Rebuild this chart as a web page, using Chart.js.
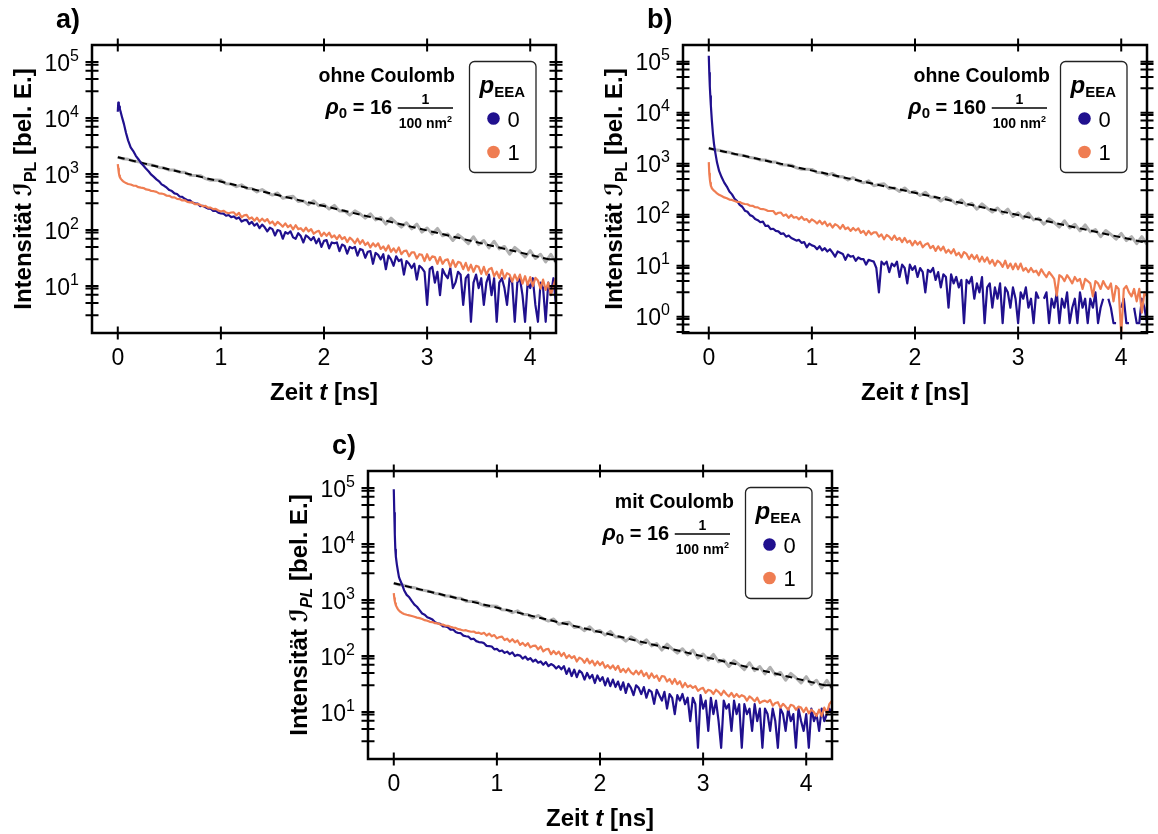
<!DOCTYPE html>
<html>
<head>
<meta charset="utf-8">
<script src="https://cdn.jsdelivr.net/npm/chart.js@4.4.1/dist/chart.umd.min.js"></script>
<style>
  html, body { margin: 0; padding: 0; background: #fff; }
  #wrap { position: relative; width: 1158px; height: 834px; overflow: hidden; }
  canvas { position: absolute; }
</style>
</head>
<body>
<div id="wrap">
  <canvas id="panelA" width="579" height="417" style="left:0px;top:0px"></canvas>
  <canvas id="panelB" width="579" height="417" style="left:579px;top:0px"></canvas>
  <canvas id="panelC" width="579" height="417" style="left:270px;top:417px"></canvas>
</div>
<script>
// time axis of the simulated traces [ns]
const timeNs = [
  0, 0.005, 0.01, 0.015, 0.02, 0.03, 0.04, 0.05, 0.06, 0.08, 0.1,
  0.125, 0.15, 0.175, 0.2, 0.225, 0.25, 0.275, 0.3, 0.325, 0.35,
  0.375, 0.4, 0.425, 0.45, 0.475, 0.5, 0.525, 0.55, 0.575, 0.6,
  0.625, 0.65, 0.675, 0.7, 0.725, 0.75, 0.775, 0.8, 0.825, 0.85,
  0.875, 0.9, 0.925, 0.95, 0.975, 1.0, 1.025, 1.05, 1.075, 1.1,
  1.125, 1.15, 1.175, 1.2, 1.225, 1.25, 1.275, 1.3, 1.325, 1.35,
  1.375, 1.4, 1.425, 1.45, 1.475, 1.5, 1.525, 1.55, 1.575, 1.6,
  1.625, 1.65, 1.675, 1.7, 1.725, 1.75, 1.775, 1.8, 1.825, 1.85,
  1.875, 1.9, 1.925, 1.95, 1.975, 2.0, 2.025, 2.05, 2.075, 2.1,
  2.125, 2.15, 2.175, 2.2, 2.225, 2.25, 2.275, 2.3, 2.325, 2.35,
  2.375, 2.4, 2.425, 2.45, 2.475, 2.5, 2.525, 2.55, 2.575, 2.6,
  2.625, 2.65, 2.675, 2.7, 2.725, 2.75, 2.775, 2.8, 2.825, 2.85,
  2.875, 2.9, 2.925, 2.95, 2.975, 3.0, 3.025, 3.05, 3.075, 3.1,
  3.125, 3.15, 3.175, 3.2, 3.225, 3.25, 3.275, 3.3, 3.325, 3.35,
  3.375, 3.4, 3.425, 3.45, 3.475, 3.5, 3.525, 3.55, 3.575, 3.6,
  3.625, 3.65, 3.675, 3.7, 3.725, 3.75, 3.775, 3.8, 3.825, 3.85,
  3.875, 3.9, 3.925, 3.95, 3.975, 4.0, 4.025, 4.05, 4.075, 4.1,
  4.125, 4.15, 4.175, 4.2, 4.225, 4.25
];

// reference decay (grey) and its exponential fit (dashed), same in all panels
const grayTime = [
  0, 0.05, 0.1, 0.15, 0.2, 0.25, 0.3, 0.35, 0.4, 0.45,
  0.5, 0.55, 0.6, 0.65, 0.7, 0.75, 0.8, 0.85, 0.9, 0.95,
  1.0, 1.05, 1.1, 1.15, 1.2, 1.25, 1.3, 1.35, 1.4, 1.45,
  1.5, 1.55, 1.6, 1.65, 1.7, 1.75, 1.8, 1.85, 1.9, 1.95,
  2.0, 2.05, 2.1, 2.15, 2.2, 2.25, 2.3, 2.35, 2.4, 2.45,
  2.5, 2.55, 2.6, 2.65, 2.7, 2.75, 2.8, 2.85, 2.9, 2.95,
  3.0, 3.05, 3.1, 3.15, 3.2, 3.25, 3.3, 3.35, 3.4, 3.45,
  3.5, 3.55, 3.6, 3.65, 3.7, 3.75, 3.8, 3.85, 3.9, 3.95,
  4.0, 4.05, 4.1, 4.15, 4.2, 4.25
];
const grayRef = [
  2010, 1882, 1835, 1710, 1667, 1537, 1484, 1425, 1315, 1282,
  1182, 1181, 1079, 1078, 956, 946, 936, 830, 773, 781,
  772, 671, 665, 595, 643, 555, 554, 480, 530, 462,
  421, 460, 369, 389, 402, 324, 332, 284, 334, 271,
  286, 237, 276, 219, 221, 185, 220, 195, 163, 195,
  152, 167, 128, 163, 134, 113, 135, 105, 128, 92,
  109, 85, 107, 79, 85, 65, 83, 70, 57, 76,
  55, 65, 48, 63, 46, 51, 37, 49, 41, 33,
  43, 31, 37, 27, 37, 26
];
const fitTime = [0, 4.25];
const fitRef = [2000, 28];

// a) ohne Coulomb, rho0 = 16
const blueA = [
  13000, 19000, 17500, 16000, 14500, 12500, 10600, 9100, 7800, 5400, 4000,
  3000, 2580, 2120, 1840, 1580, 1410, 1240, 1110, 975, 890,
  805, 742, 655, 618, 570, 518, 497, 452, 440, 398,
  392, 362, 340, 338, 309, 300, 296, 268, 272, 256,
  242, 240, 220, 222, 205, 199, 196, 180, 186, 170,
  175, 160, 168, 142, 150, 152, 128, 140, 120, 131,
  108, 125, 112, 95, 110, 104, 80, 100, 96, 70,
  92, 86, 95, 74, 70, 88, 78, 60, 80, 74,
  66, 75, 58, 70, 50, 64, 66, 47, 60, 58,
  60, 42, 55, 52, 38, 50, 47, 50, 35, 46,
  44, 32, 41, 42, 25, 39, 36, 30, 37, 20,
  35, 30, 23, 34, 28, 30, 16, 28, 25, 21,
  25, 13, 23, 21, 18, 4.6, 20, 22, 11.5, 18,
  6.9, 20, 16, 13.8, 21, 9.2, 11.5, 18, 16, 4.6,
  13.8, 16, 2.3, 11.5, 16, 9.2, 13.8, 4.6, 11.5, 16,
  6.9, 13.8, 2.3, 11.5, 13.8, 9.2, 4.6, 13.8, 11.5, 2.3,
  11.5, 13.8, 6.9, 2.3, 11.5, 9.2, 13.8, 4.6, 2.3, 11.5,
  9.2, 2.3, 11.5, 6.9, 13.8, 4.6
];
const orangeA = [
  1500, 1250, 1050, 940, 880, 820, 780, 750, 725, 690, 665,
  652, 622, 618, 583, 571, 562, 531, 523, 498, 494,
  480, 452, 449, 436, 411, 409, 384, 383, 360, 358,
  338, 341, 318, 312, 311, 289, 292, 282, 266, 270,
  251, 252, 236, 239, 224, 214, 221, 206, 200, 206,
  207, 183, 203, 169, 183, 187, 159, 168, 147, 166,
  142, 160, 143, 157, 132, 142, 121, 140, 128, 115,
  132, 113, 123, 103, 122, 104, 108, 95, 110, 95,
  104, 86, 93, 97, 78, 90, 79, 90, 74, 80,
  69, 81, 69, 75, 61, 73, 67, 58, 70, 57,
  66, 54, 60, 49, 58, 51, 58, 46, 51, 43,
  53, 41, 47, 40, 49, 37, 42, 43, 34, 40,
  40, 31, 37, 36, 28, 37, 29, 34, 33, 25,
  33, 25, 29, 30, 22, 29, 22, 27, 26, 20,
  26, 19, 24, 18, 23, 22, 16.5, 22, 16, 20,
  21, 15, 18, 14, 19.5, 13.5, 17, 16, 12, 16,
  12.5, 16, 11, 15, 10.5, 14.5, 10, 14, 12.5, 9,
  13, 8.5, 11.5, 7, 10, 14
];

// b) ohne Coulomb, rho0 = 160
const blueB = [
  130000, 60000, 33000, 21000, 14000, 7000, 3900, 2500, 1800, 1050, 720,
  540, 425, 355, 285, 250, 205, 185, 156, 143, 120,
  114, 98, 93, 82, 78, 71, 73, 60, 61, 52,
  53, 48, 47, 42, 43, 37, 39, 35, 33, 31,
  32, 28, 29, 23, 27, 25, 24, 21, 24, 20,
  22, 19, 21, 18, 15, 19, 18, 17, 13, 16.5,
  15, 15.5, 12.5, 14.5, 13.5, 13.5, 10.5, 13, 12.5, 12,
  9, 3, 12, 10.5, 12, 7.5, 11, 9.75, 12, 6,
  10.5, 9, 4.5, 10.5, 8.25, 9.75, 6, 9, 7.5, 3,
  8.25, 7.5, 9, 5.25, 7.5, 3.75, 6.75, 6, 1.5, 6.75,
  4.5, 6, 3.75, 5.25, 0.75, 5.25, 4.5, 6, 2.25, 4.5,
  3, 6, 0.75, 3.75, 4.5, 1.5, 3.75, 2.25, 4.5, 0.75,
  3.75, 3, 1.5, 3.75, 2.25, 0.75, 3, 2.25, 3.75, 1.5,
  2.25, 0.75, 3, 2.25, null, 2.25, 3, 0.75, 2.25, 1.5,
  3, 0.75, 2.25, 1.5, 3, 0.75, 1.5, 2.25, 0.75, 3,
  1.5, 2.25, 0.75, 2.25, 1.5, 3, 0.75, 1.5, 2.25, null,
  2.25, 1.5, 0.75, 0.75, null, 1.5, 2.25, 0.75, 0.75, null,
  1.5, 0.75, 0.75, 2.25, 1.5, 0.75
];
const orangeB = [
  1070, 640, 500, 420, 370, 330, 310, 295, 285, 262, 245,
  232, 218, 210, 198, 195, 185, 178, 177, 166, 162,
  160, 150, 149, 140, 139, 130, 129, 125, 118, 118,
  118, 102, 109, 110, 95, 101, 87, 99, 87, 90,
  81, 91, 79, 82, 71, 81, 75, 67, 76, 65,
  73, 60, 67, 56, 65, 61, 53, 63, 52, 56,
  48, 55, 49, 54, 44, 48, 40, 48, 41, 45,
  45, 37, 41, 33, 40, 37, 32, 39, 32, 35,
  29, 35, 28.5, 31, 25, 30.5, 26, 29.5, 23, 26,
  27.5, 22, 24.5, 19.5, 24, 20, 23.5, 18, 20.5, 17.5,
  21, 16, 18, 14.5, 18.5, 17, 13.5, 16.5, 13.5, 16,
  12, 15, 12, 14.5, 11, 13, 10, 12.5, 11.5, 9.5,
  12.5, 9, 11, 8.5, 11, 8.5, 11, 8, 9, 7.5,
  9, 7.5, 8, 6.5, 8.5, 7, 6, 7.5, 6.5, 5.5,
  2.6, 6.5, 6, 5, 6.5, 5.5, 4.5, 6, 5, 5.5,
  3.5, 5.5, 5, 4.5, 2.5, 5, 4.5, 3.5, 5, 4,
  3.5, 4.5, 2, 4, 3.5, 0.45, 3.5, 4, 3, 2.5,
  3.5, 2, 3.5, 1.2, 3, 2.5
];

// c) mit Coulomb, rho0 = 16
const blueC = [
  95000, 36000, 15000, 8000, 6000, 4300, 3300, 2600, 2300, 1900, 1500,
  1240, 1120, 960, 830, 760, 660, 575, 548, 495, 472,
  448, 400, 385, 376, 340, 338, 326, 296, 298, 270,
  258, 256, 232, 226, 222, 200, 204, 185, 178, 176,
  170, 152, 150, 148, 132, 134, 122, 126, 114, 120,
  108, 116, 100, 105, 102, 90, 98, 86, 92, 80,
  86, 76, 80, 70, 78, 66, 72, 68, 60, 66,
  58, 66, 48, 60, 44, 57, 42, 55, 50, 38,
  50, 40, 46, 33, 45, 36, 42, 30, 40, 29,
  38, 28, 35, 25, 34, 22, 32, 27, 20, 30,
  27, 21, 28, 18, 25, 23, 14, 25, 20, 16,
  23, 11.5, 21, 18, 9.2, 20, 16, 21, 13.8, 18,
  6.9, 18, 13.8, 2.3, 20, 11.5, 16, 4.6, 18, 9.2,
  16, 6.9, 2.3, 16, 11.5, 13.8, 4.6, 16, 9.2, 13.8,
  2.3, 13.8, 9.2, 11.5, 4.6, 13.8, 6.9, 11.5, 2.3, 11.5,
  9.2, 4.6, 11.5, 6.9, 2.3, 11.5, 9.2, 4.6, 11.5, 6.9,
  9.2, 2.3, 11.5, 6.9, 4.6, 9.2, 2.3, 11.5, 6.9, 9.2,
  4.6, 11.5, 6.9, 9.2, 11.5, 9.2
];
const orangeC = [
  1330, 1080, 950, 870, 810, 740, 690, 650, 625, 590, 565,
  546, 533, 520, 503, 486, 476, 458, 438, 428, 408,
  404, 386, 384, 366, 364, 350, 348, 334, 324, 318,
  302, 296, 286, 290, 278, 272, 274, 258, 262, 248,
  260, 233, 252, 225, 237, 207, 218, 222, 193, 204,
  180, 200, 176, 190, 158, 172, 152, 170, 143, 152,
  154, 132, 148, 121, 132, 134, 108, 123, 108, 120,
  100, 114, 92, 104, 92, 100, 80, 94, 88, 76,
  90, 74, 83, 68, 80, 69, 78, 62, 69, 60,
  68, 57, 67, 52, 59, 51, 60, 51, 47, 55,
  47, 55, 44, 50, 40, 49, 41, 45, 36, 44,
  43, 35, 39, 32, 39, 31.5, 35.5, 27.5, 33, 28,
  30, 27, 29, 24, 26, 27, 22, 25, 24, 21,
  25, 23, 20, 24, 21, 19, 22, 18.5, 21, 18.5,
  20, 19, 16, 19, 17.5, 15.5, 18, 14.5, 15.5, 16,
  15, 16.5, 13, 14.5, 15, 12, 14, 12.5, 11, 13.5,
  13, 11, 12.5, 12, 10, 12, 9.5, 11, 10, 8.5,
  11, 8.5, 12, 9.5, 14, 16
];

// axis ticks and legend
const xTickValues = [0, 1, 2, 3, 4];
const xTickLabels = ['0', '1', '2', '3', '4'];
const decadesAC = [1, 2, 3, 4, 5];
const decadesB = [0, 1, 2, 3, 4, 5];
const minorFactors = [1, 0.9, 0.7, 0.5, 0.3];
const legendLabels = ['0', '1'];

const BLUE = '#20108e';
const ORANGE = '#ef7d52';
const GRAY = '#b0b0b0';
const FONT = "'Liberation Sans', Arial, Helvetica, sans-serif";
const TICK = 6.5;

function toPoints(xs, ys) {
    return xs.map((x, i) => ({ x: x, y: ys[i] }));
}

function runsWidth(ctx, runs) {
    let w = 0;
    for (const r of runs) {
        ctx.font = r.font;
        w += ctx.measureText(r.text).width;
    }
    return w;
}

function drawRuns(ctx, runs, x, y) {
    for (const r of runs) {
        ctx.font = r.font;
        ctx.fillText(r.text, x, y + (r.dy || 0));
        x += ctx.measureText(r.text).width;
    }
}

function makeDecor(p) {
    return {
        id: 'decor',
        afterDraw(chart) {
            const ctx = chart.ctx;
            const a = chart.chartArea;
            const xs = chart.scales.x;
            const ys = chart.scales.y;
            ctx.save();
            ctx.fillStyle = '#000';
            ctx.strokeStyle = '#000';
            ctx.textBaseline = 'alphabetic';

            // ticks crossing all four sides
            ctx.lineWidth = 2;
            ctx.beginPath();
            xTickValues.forEach(v => {
                const px = xs.getPixelForValue(v);
                ctx.moveTo(px, a.top - TICK); ctx.lineTo(px, a.top + TICK);
                ctx.moveTo(px, a.bottom - TICK); ctx.lineTo(px, a.bottom + TICK);
            });
            p.decades.forEach(d => {
                minorFactors.forEach(f => {
                    const v = f * Math.pow(10, d);
                    if (v < p.yMin || v > p.yMax) return;
                    const py = ys.getPixelForValue(v);
                    ctx.moveTo(a.left - TICK, py); ctx.lineTo(a.left + TICK, py);
                    ctx.moveTo(a.right - TICK, py); ctx.lineTo(a.right + TICK, py);
                });
            });
            ctx.stroke();

            // frame
            ctx.lineWidth = 2.5;
            ctx.strokeRect(a.left, a.top, a.right - a.left, a.bottom - a.top);

            // x tick labels
            ctx.font = '23px ' + FONT;
            ctx.textAlign = 'center';
            xTickValues.forEach((v, i) => {
                ctx.fillText(xTickLabels[i], xs.getPixelForValue(v), a.bottom + 31.5);
            });

            // y tick labels 10^n
            ctx.textAlign = 'left';
            p.decades.forEach(d => {
                const py = ys.getPixelForValue(Math.pow(10, d));
                const runs = [
                    { text: '10', font: '23px ' + FONT },
                    { text: String(d), font: '16px ' + FONT, dy: -10 }
                ];
                const w = runsWidth(ctx, runs);
                drawRuns(ctx, runs, a.left - 13 - w, py + 8.5);
            });

            // x title
            const xRuns = [
                { text: 'Zeit ', font: 'bold 24px ' + FONT },
                { text: 't', font: 'italic bold 24px ' + FONT },
                { text: ' [ns]', font: 'bold 24px ' + FONT }
            ];
            const xw = runsWidth(ctx, xRuns);
            drawRuns(ctx, xRuns, (a.left + a.right) / 2 - xw / 2, a.bottom + 67);

            // y title, rotated
            ctx.save();
            ctx.translate(a.left - 61.5, (a.top + a.bottom) / 2);
            ctx.rotate(-Math.PI / 2);
            const yRuns = [
                { text: 'Intensität ', font: 'bold 24px ' + FONT },
                { text: '\u2110', font: "italic bold 24px 'DejaVu Sans', " + FONT },
                { text: 'PL', font: (p.italicPL ? 'italic ' : '') + 'bold 16px ' + FONT, dy: 5 },
                { text: ' [bel. E.]', font: 'bold 24px ' + FONT }
            ];
            const yw = runsWidth(ctx, yRuns);
            drawRuns(ctx, yRuns, -yw / 2, 0);
            ctx.restore();

            // panel letter
            ctx.font = 'bold 27px ' + FONT;
            ctx.fillText(p.letter, a.left - 36, a.top - 17);

            // annotation
            ctx.textAlign = 'right';
            ctx.font = 'bold 19.5px ' + FONT;
            ctx.fillText(p.line1, a.right - p.textRight, a.top + 37);
            ctx.textAlign = 'left';
            const barR = a.right - p.fracRight;
            const barY = a.top + 63;
            const denRuns = [
                { text: '100 nm', font: 'bold 14px ' + FONT },
                { text: '2', font: 'bold 9px ' + FONT, dy: -6 }
            ];
            const barW = runsWidth(ctx, denRuns) + 2;
            const barL = barR - barW;
            ctx.lineWidth = 1.5;
            ctx.beginPath();
            ctx.moveTo(barL, barY); ctx.lineTo(barR, barY);
            ctx.stroke();
            ctx.textAlign = 'center';
            ctx.font = 'bold 14px ' + FONT;
            ctx.fillText('1', (barL + barR) / 2, barY - 4);
            ctx.textAlign = 'left';
            drawRuns(ctx, denRuns, barL + 1, barY + 20);
            const rhoRuns = [
                { text: '\u03C1', font: 'italic bold 22px ' + FONT },
                { text: '0', font: 'bold 15px ' + FONT, dy: 4 },
                { text: ' = ' + p.rho + ' ', font: 'bold 20px ' + FONT }
            ];
            const rw = runsWidth(ctx, rhoRuns);
            drawRuns(ctx, rhoRuns, barL - rw, barY + 6);

            // legend box
            const bx = a.right - 86.5, by = a.top + 16.5, bw = 66.5, bh = 111, r = 5;
            ctx.beginPath();
            ctx.moveTo(bx + r, by);
            ctx.lineTo(bx + bw - r, by);
            ctx.arcTo(bx + bw, by, bx + bw, by + r, r);
            ctx.lineTo(bx + bw, by + bh - r);
            ctx.arcTo(bx + bw, by + bh, bx + bw - r, by + bh, r);
            ctx.lineTo(bx + r, by + bh);
            ctx.arcTo(bx, by + bh, bx, by + bh - r, r);
            ctx.lineTo(bx, by + r);
            ctx.arcTo(bx, by, bx + r, by, r);
            ctx.closePath();
            ctx.fillStyle = '#fff';
            ctx.fill();
            ctx.lineWidth = 1.3;
            ctx.strokeStyle = '#222';
            ctx.stroke();
            ctx.fillStyle = '#000';
            drawRuns(ctx, [
                { text: 'p', font: 'italic bold 24px ' + FONT },
                { text: 'EEA', font: 'bold 15px ' + FONT, dy: 4 }
            ], bx + 10, by + 31);
            [BLUE, ORANGE].forEach((c, i) => {
                const cy = by + 57 + i * 33.5;
                ctx.beginPath();
                ctx.arc(bx + 24, cy, 6.3, 0, Math.PI * 2);
                ctx.fillStyle = c;
                ctx.fill();
                ctx.fillStyle = '#000';
                ctx.font = '22px ' + FONT;
                ctx.fillText(legendLabels[i], bx + 38, cy + 8);
            });

            ctx.restore();
        }
    };
}

function buildPanel(p) {
    const lineStyle = { pointRadius: 0, borderWidth: 2.2, tension: 0, borderJoinStyle: 'round', fill: false };
    return new Chart(document.getElementById(p.id), {
        type: 'line',
        data: {
            datasets: [
                Object.assign({}, lineStyle, { data: toPoints(timeNs, p.orange), borderColor: ORANGE }),
                Object.assign({}, lineStyle, { data: toPoints(timeNs, p.blue), borderColor: BLUE }),
                Object.assign({}, lineStyle, { data: toPoints(fitTime, fitRef), borderColor: '#000', borderWidth: 2, borderDash: [7, 4.5] }),
                Object.assign({}, lineStyle, { data: toPoints(grayTime, grayRef), borderColor: GRAY, borderWidth: 3 })
            ]
        },
        options: {
            responsive: false,
            animation: false,
            events: [],
            layout: { padding: p.padding },
            scales: {
                x: { type: 'linear', display: false, min: -0.25, max: 4.25, bounds: 'data' },
                y: { type: 'logarithmic', display: false, min: p.yMin, max: p.yMax, bounds: 'data' }
            },
            plugins: { legend: { display: false }, tooltip: { enabled: false } }
        },
        plugins: [makeDecor(p)]
    });
}

buildPanel({
    id: 'panelA', letter: 'a)', blue: blueA, orange: orangeA,
    yMin: 1.45, yMax: 2.02e5, decades: decadesAC,
    line1: 'ohne Coulomb', rho: '16', italicPL: false, textRight: 101, fracRight: 103,
    padding: { left: 92, right: 23, top: 45, bottom: 84 }
});
buildPanel({
    id: 'panelB', letter: 'b)', blue: blueB, orange: orangeB,
    yMin: 0.479, yMax: 2.12e5, decades: decadesB,
    line1: 'ohne Coulomb', rho: '160', italicPL: false, textRight: 97, fracRight: 100,
    padding: { left: 104, right: 11, top: 45, bottom: 84 }
});
buildPanel({
    id: 'panelC', letter: 'c)', blue: blueC, orange: orangeC,
    yMin: 1.45, yMax: 2.02e5, decades: decadesAC,
    line1: 'mit Coulomb', rho: '16', italicPL: true, textRight: 98, fracRight: 102,
    padding: { left: 98, right: 17, top: 54, bottom: 75 }
});
</script>
</body>
</html>
